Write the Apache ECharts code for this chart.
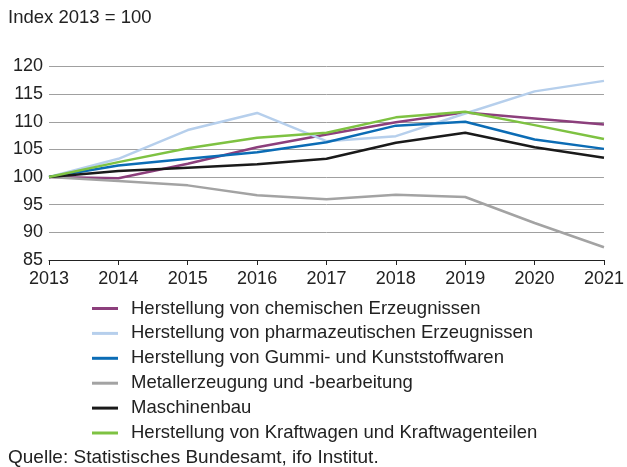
<!DOCTYPE html>
<html>
<head>
<meta charset="UTF-8">
<title>Index 2013 = 100</title>
<script src="https://cdn.jsdelivr.net/npm/echarts@6/dist/echarts.min.js"></script>
<style>
  html, body { margin: 0; padding: 0; background: #fff; }
  #main { width: 627px; height: 467px; }
</style>
</head>
<body>
<div id="main"></div>
<script type="text/javascript">
    // Jahre und Indexwerte (2013 = 100)
    var years = ['2013', '2014', '2015', '2016', '2017', '2018', '2019', '2020', '2021'];
    var chemie = [100, 99.8, 102.4, 105.4, 107.7, 109.9, 111.7, 110.6, 109.5];
    var pharma = [100, 103.3, 108.5, 111.6, 106.5, 107.4, 111.5, 115.5, 117.4];
    var gummi = [100, 102.1, 103.3, 104.5, 106.3, 109.3, 110.0, 106.8, 105.1];
    var metall = [100, 99.3, 98.5, 96.7, 96.0, 96.8, 96.4, 91.7, 87.3];
    var maschinen = [100, 101.1, 101.7, 102.3, 103.3, 106.2, 108.0, 105.4, 103.5];
    var kfz = [100, 102.7, 105.2, 107.1, 108.0, 110.8, 111.8, 109.4, 106.9];

    var names = [
        'Herstellung von chemischen Erzeugnissen',
        'Herstellung von pharmazeutischen Erzeugnissen',
        'Herstellung von Gummi- und Kunststoffwaren',
        'Metallerzeugung und -bearbeitung',
        'Maschinenbau',
        'Herstellung von Kraftwagen und Kraftwagenteilen'
    ];
    var colors = ['#8c3f7c', '#b6cfec', '#0b6cb5', '#a3a3a3', '#1a1a1a', '#7ec242'];
    var values = [chemie, pharma, gummi, metall, maschinen, kfz];

    var font = 'Liberation Sans, Arial, sans-serif';

    var series = [];
    for (var i = 0; i < names.length; i++) {
        series.push({
            name: names[i],
            type: 'line',
            data: values[i],
            symbol: 'none',
            lineStyle: { width: 2.5, color: colors[i] },
            itemStyle: { color: colors[i] }
        });
    }

    var myChart = echarts.init(document.getElementById('main'));
    myChart.setOption({
        animation: false,
        textStyle: { fontFamily: font },
        title: [
            { text: 'Index 2013 = 100', left: 8, top: 8, padding: 0,
              textStyle: { fontSize: 18.5, fontWeight: 'normal', color: '#222', fontFamily: font } },
            { text: 'Quelle: Statistisches Bundesamt, ifo Institut.', left: 8, top: 448, padding: 0,
              textStyle: { fontSize: 19, fontWeight: 'normal', color: '#222', fontFamily: font } }
        ],
        legend: {
            orient: 'vertical',
            left: 92,
            top: 299,
            padding: 0,
            itemWidth: 26,
            itemHeight: 3,
            itemGap: 5.9,
            icon: 'rect',
            textStyle: { fontSize: 18.5, color: '#222', lineHeight: 18.5, padding: [0, 0, 0, 8], fontFamily: font },
            data: names
        },
        grid: { left: 49, right: 20, top: 66.5, bottom: 207 },
        xAxis: {
            type: 'category',
            data: years,
            boundaryGap: false,
            axisLine: { lineStyle: { color: '#222', width: 1 } },
            axisTick: { show: true, length: 5, lineStyle: { color: '#222' } },
            axisLabel: { fontSize: 18, color: '#222', margin: 10, fontFamily: font },
            splitLine: { show: false }
        },
        yAxis: {
            type: 'value',
            min: 85,
            max: 120,
            interval: 5,
            axisLine: { show: false },
            axisTick: { show: false },
            axisLabel: { fontSize: 18, color: '#222', margin: 6, fontFamily: font },
            splitLine: { lineStyle: { color: '#a0a0a0', width: 1 } }
        },
        series: series
    });
</script>
</body>
</html>
